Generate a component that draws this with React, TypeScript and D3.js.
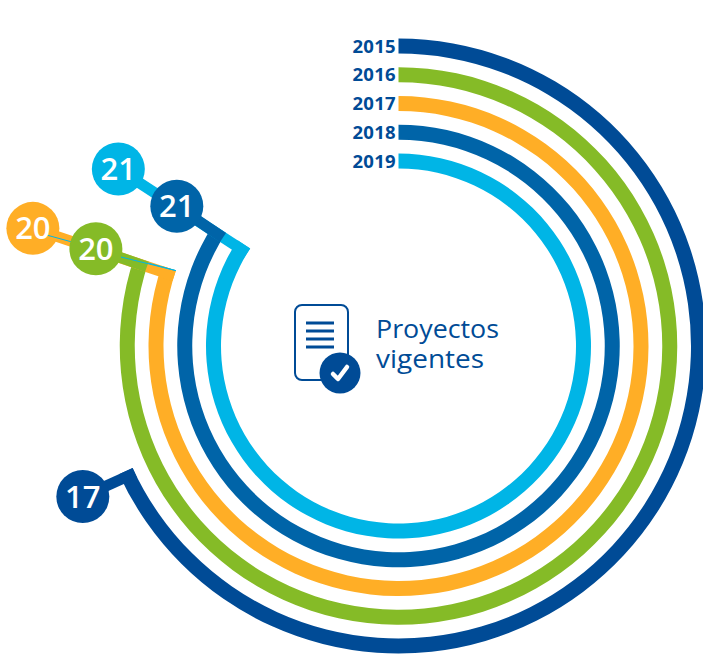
import React from "react";
import * as d3 from "d3";

const years = ["2015", "2016", "2017", "2018", "2019"];
const values = [17, 20, 20, 21, 21];
const colors = ["#004b96", "#85bb27", "#ffae26", "#0064a8", "#00b5e6"];
const bubbleOffsets = [50, 48, 143, 50, 148];
const drawOrder = [0, 4, 3, 2, 1];
const axisMax = 25;

const CX = 398.5, CY = 346, RING_W = 15, LEADER_W = 11, BUBBLE_R = 26.5, END_EXT = 3;
const BUBBLE_DX = 1, BUBBLE_DY = 1.5;

const angle = d3.scaleLinear().domain([0, axisMax]).range([0, 2 * Math.PI]);
const radius = d3.scalePoint<string>().domain(years).range([300, 185]);
const arcGen = d3.arc<{ r: number; v: number }>()
  .innerRadius(d => d.r - RING_W / 2)
  .outerRadius(d => d.r + RING_W / 2)
  .startAngle(0)
  .endAngle(d => angle(d.v) + END_EXT / d.r);

const polar = (a: number, r: number): [number, number] => [CX + r * Math.sin(a), CY - r * Math.cos(a)];

function geom(i: number) {
  const a = angle(values[i]);
  const r = radius(years[i])!;
  const tipA = a + END_EXT / r;
  const inner = polar(tipA, r - RING_W / 2);
  const tx = -Math.cos(tipA), ty = -Math.sin(tipA); // back along the ring
  const start: [number, number] = [inner[0] + tx * LEADER_W / 2, inner[1] + ty * LEADER_W / 2];
  const c = polar(a, r + bubbleOffsets[i]);
  const center: [number, number] = [c[0] + BUBBLE_DX, c[1] + BUBBLE_DY];
  return { a, r, inner, start, center };
}

const numFont = "'Open Sans', sans-serif";

function Marker({ i }: { i: number }) {
  const g = geom(i);
  return (
    <g>
      <line x1={g.start[0]} y1={g.start[1]} x2={g.center[0]} y2={g.center[1]} stroke={colors[i]} strokeWidth={LEADER_W} />
      <circle cx={g.center[0]} cy={g.center[1]} r={BUBBLE_R} fill={colors[i]} />
      <text x={g.center[0]} y={g.center[1] + 11} textAnchor="middle" fill="#fff" fontFamily={numFont} fontWeight={600} fontSize={31}>
        {values[i]}
      </text>
    </g>
  );
}

export default function App() {
  const orange = geom(2);
  return (
    <svg width={703} height={654} style={{ position: "absolute", left: 0, top: 0 }}>
      <rect width={703} height={654} fill="#fff" />
      {years.map((y, i) => (
        <path key={y} transform={`translate(${CX},${CY})`} fill={colors[i]} d={arcGen({ r: radius(y)!, v: values[i] }) as string} />
      ))}
      {years.map((y) => (
        <text key={y} x={396} y={CY - radius(y)! + 6.5} textAnchor="end" fill="#004b96" fontFamily={numFont} fontWeight={700} fontSize={18.5} letterSpacing={0.3}>
          {y}
        </text>
      ))}
      {drawOrder.map(i => (
        <React.Fragment key={i}>
          {i === 1 && (
            <line x1={orange.center[0] + 15} y1={orange.center[1] + 7} x2={orange.inner[0]} y2={orange.inner[1]} stroke={colors[4]} strokeWidth={1} />
          )}
          <Marker i={i} />
        </React.Fragment>
      ))}
      {/* thin line resurfaces over the green leader, beside the green bubble */}
      <line x1={121} y1={257} x2={orange.inner[0]} y2={orange.inner[1]} stroke={colors[4]} strokeWidth={1} />
      <g>
        <rect x={295} y={305} width={53} height={75} rx={7} fill="#fff" stroke="#004b96" strokeWidth={2} />
        {[323, 331, 339, 347].map(y => (
          <rect key={y} x={306} y={y - 1.5} width={28} height={3} fill="#004b96" />
        ))}
        <circle cx={340} cy={373} r={20.5} fill="#004b96" />
        <path d="M333,374 L338,379 L347,367" fill="none" stroke="#fff" strokeWidth={4.5} strokeLinecap="round" strokeLinejoin="round" />
      </g>
      <text x={376} y={338} fill="#004b96" fontFamily={numFont} fontSize={26} textLength={123} lengthAdjust="spacingAndGlyphs">Proyectos</text>
      <text x={376} y={368} fill="#004b96" fontFamily={numFont} fontSize={26} textLength={108} lengthAdjust="spacingAndGlyphs">vigentes</text>
    </svg>
  );
}
